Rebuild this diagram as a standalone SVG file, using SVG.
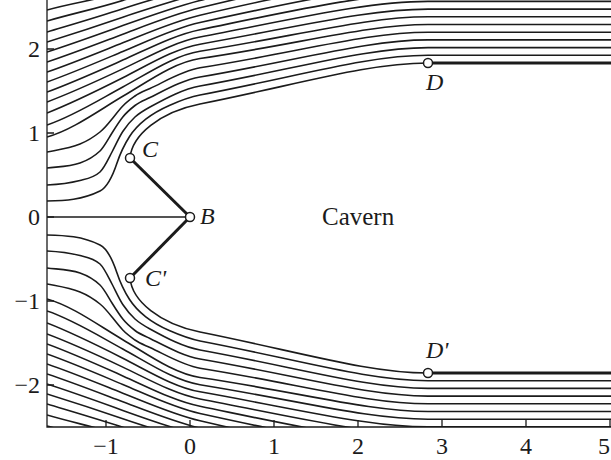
<svg xmlns="http://www.w3.org/2000/svg" xmlns:xlink="http://www.w3.org/1999/xlink" width="611" height="460" viewBox="0 0 611 460">
<defs>
<style>
.s{fill:none;stroke:#1b1b1b;stroke-width:1.6}
.w{fill:none;stroke:#1b1b1b;stroke-width:3}
.ax{fill:none;stroke:#1b1b1b;stroke-width:1.3}
.pt{fill:#fff;stroke:#1b1b1b;stroke-width:1.5}
.t{font-family:"Liberation Serif","Times New Roman",serif;font-size:24px;fill:#1b1b1b}
.it{font-style:italic}
</style>
<clipPath id="plot"><rect x="47" y="0" width="564" height="427"/></clipPath>
</defs>
<rect width="611" height="460" fill="#fff"/>
<g id="streamlines" clip-path="url(#plot)">
<g id="upper">
<path class="s" d="M130,158 C132,135 160,112 200,104 C300,84 368,63 428,63"/>
<path class="s" d="M47,201 C64.67,200.65 82.33,199.8 100,191 C105.67,188.17 111.33,180 117,163 C121.13,150.6 125.27,143.19 129.4,136.7 C134.87,128.12 140.33,123.4 145.8,119.1 C153.63,112.94 161.47,108.85 169.3,105.4 C179.53,100.9 189.77,96.94 200,95 C300,75.93 368,55.3 428,55.3 L611,55.3"/>
<path class="s" d="M47,185 C58,184.45 69,183.25 80,180.5 C86.67,178.83 93.33,178 100,172 C104,168.4 108,159.6 112,152 C115.6,145.16 119.2,136.9 122.8,131.5 C126.87,125.4 130.93,120.66 135,117 C140,112.5 145,109.75 150,107 C166.67,97.83 183.33,89.02 200,86 C300,67.87 368,47.6 428,47.6 L611,47.6"/>
<path class="s" d="M47,168 C58,166.68 69,166.85 80,163 C86.67,160.67 93.33,157.33 100,151 C104,147.2 108,139.4 112,133 C115.6,127.24 119.2,121.5 122.8,117 C126.87,111.91 130.93,108.67 135,105.5 C140,101.6 145,100 150,97.5 C166.67,89.17 183.33,79.87 200,77 C300,59.8 368,39.9 428,39.9 L611,39.9"/>
<path class="s" d="M47,152 C58,149.8 69,148.4 80,144 C86.67,141.33 93.33,137.33 100,132 C104,128.8 108,124 112,119 C115.6,114.5 119.2,109.78 122.8,106 C126.87,101.73 130.93,98.93 135,96 C140,92.4 145,90.85 150,88.5 C166.67,80.67 183.33,70.47 200,67.8 C300,51.8 368,32.2 428,32.2 L611,32.2"/>
<path class="s" d="M47,137 C72.27,129.92 97.53,111.23 122.8,96.3 C148.53,81.09 174.27,62.28 200,58.5 C300,43.83 368,24.5 428,24.5 L611,24.5"/>
<path class="s" d="M47,125 C72.27,116.66 97.53,100.75 122.8,87 C148.53,73 174.27,55.44 200,51.3 C300,35.17 368,16.8 428,16.8 L611,16.8"/>
<path class="s" d="M47,113 C72.27,103.22 97.53,90.56 122.8,77.8 C148.53,64.81 174.27,48.75 200,44.2 C300,26.47 368,9.1 428,9.1 L611,9.1"/>
<path class="s" d="M47,102 C72.27,92.45 97.53,80.83 122.8,68.9 C148.53,56.76 174.27,41.94 200,37 C300,17.8 368,1.4 428,1.4 L611,1.4"/>
<path class="s" d="M47,92 C72.27,82.73 97.53,71.32 122.8,60.1 C148.53,48.68 174.27,34.97 200,29.7 C300,9.17 368,-6.3 428,-6.3"/>
<path class="s" d="M47,82 C72.27,73 97.53,62.09 122.8,51.5 C148.53,40.72 174.27,28.16 200,22.5 C300,0.5 368,-14 428,-14"/>
<path class="s" d="M47,72 C72.27,63.31 97.53,52.83 122.8,42.8 C148.53,32.59 174.27,21.2 200,15.2 C300,-8.13 368,-21.7 428,-21.7"/>
<path class="s" d="M47,62 C72.27,53.58 97.53,43.73 122.8,34.2 C148.53,24.5 174.27,14.1 200,7.8 C300,-16.73 368,-29.4 428,-29.4"/>
<path class="s" d="M47,52 C72.27,43.86 97.53,34.67 122.8,25.6 C148.53,16.36 174.27,7.16 200,0.5 C300,-25.37 368,-37.1 428,-37.1"/>
<path class="s" d="M47,42 C72.27,34.12 97.53,25.89 122.8,17.2 C148.53,8.35 174.27,0.69 200,-6.9"/>
<path class="s" d="M47,32 C72.27,24.37 97.53,17.01 122.8,8.7 C148.53,0.23 174.27,-6.7 200,-14.2"/>
<path class="s" d="M47,21 C72.27,13.62 97.53,8.39 122.8,0.4 C148.53,-7.73 174.27,-14.2 200,-21.6"/>
<path class="s" d="M47,10 C72.27,2.85 97.53,-0.32 122.8,-8"/>
</g>
<use xlink:href="#upper" href="#upper" transform="matrix(1 0 0 -1 0 436)"/>
</g>
<g id="connectors">
<line class="ax" x1="47" y1="217" x2="190" y2="217"/>
<line class="w" x1="130" y1="158" x2="190" y2="217"/>
<line class="w" x1="130" y1="278" x2="190" y2="217"/>
<line class="w" x1="428" y1="63" x2="611" y2="63"/>
<line class="w" x1="428" y1="373" x2="611" y2="373"/>
</g>
<g id="axes">
<path class="ax" d="M47,0 V427 H611"/>
<path class="ax" d="M47,49 H54 M47,133 H54 M47,217 H54 M47,301 H54 M47,385 H54"/>
<path class="ax" d="M106,427 V420 M190,427 V420 M274,427 V420 M358,427 V420 M442,427 V420 M526,427 V420 M610,427 V420"/>
<g class="t" text-anchor="end">
<text x="40" y="57">2</text>
<text x="40" y="141">1</text>
<text x="40" y="225">0</text>
<text x="40" y="309">−1</text>
<text x="40" y="393">−2</text>
</g>
<g class="t" text-anchor="middle">
<text x="106" y="454">−1</text>
<text x="190" y="454">0</text>
<text x="274" y="454">1</text>
<text x="358" y="454">2</text>
<text x="442" y="454">3</text>
<text x="526" y="454">4</text>
</g>
<text class="t" x="610" y="454" text-anchor="end">5</text>
</g>
<g id="node-C"><circle class="pt" cx="130" cy="158" r="4.5"/><text class="t it" x="142" y="157">C</text></g>
<g id="node-B"><circle class="pt" cx="190" cy="217" r="4.5"/><text class="t it" x="200" y="224">B</text></g>
<g id="node-C2"><circle class="pt" cx="130" cy="278" r="4.5"/><text class="t it" x="145" y="286">C'</text></g>
<g id="node-D"><circle class="pt" cx="428" cy="63" r="4.5"/><text class="t it" x="426" y="90">D</text></g>
<g id="node-D2"><circle class="pt" cx="428" cy="373" r="4.5"/><text class="t it" x="426" y="358">D'</text></g>
<text id="cavern" class="t" x="322" y="225" style="font-size:25px">Cavern</text>
</svg>
